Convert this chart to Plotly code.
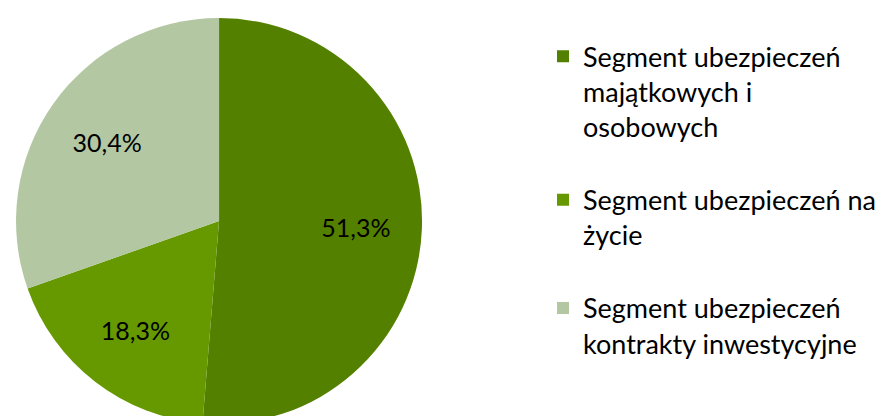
import plotly.graph_objects as go

labels = [
    "Segment ubezpieczeń<br>majątkowych i<br>osobowych<br> ",
    "Segment ubezpieczeń na<br>życie<br> ",
    "Segment ubezpieczeń<br>kontrakty inwestycyjne",
]
values = [51.3, 18.3, 30.4]
colors = ["#548000", "#669900", "#b2c7a2"]

pie_domain = dict(x=[0.009, 0.469], y=[0, 1])

fig = go.Figure()
fig.add_trace(go.Pie(
    labels=labels,
    values=values,
    sort=False,
    direction="clockwise",
    rotation=0,
    marker=dict(colors=colors, line=dict(color="white", width=0)),
    textinfo="none",
    domain=pie_domain,
    hoverinfo="label+percent",
))
# transparent ring used only to place the percentage labels further out
fig.add_trace(go.Pie(
    labels=labels,
    values=values,
    sort=False,
    direction="clockwise",
    rotation=0,
    hole=0.35,
    marker=dict(colors=["rgba(0,0,0,0)"] * len(values), line=dict(width=0)),
    texttemplate="%{percent:.1%}",
    textposition="inside",
    insidetextorientation="horizontal",
    textfont=dict(family="Lato", size=25, color="black"),
    domain=pie_domain,
    hoverinfo="skip",
    showlegend=False,
))

fig.update_layout(
    width=883, height=416,
    margin=dict(l=0, r=0, t=10, b=0),
    paper_bgcolor="white",
    plot_bgcolor="white",
    separators=", ",
    showlegend=True,
    legend=dict(
        x=0.6059, y=0.965, xanchor="left", yanchor="top",
        valign="top",
        font=dict(family="Lato", size=27, color="black"),
        itemclick=False,
        tracegroupgap=0,
    ),
)

fig.write_html("out.html")
